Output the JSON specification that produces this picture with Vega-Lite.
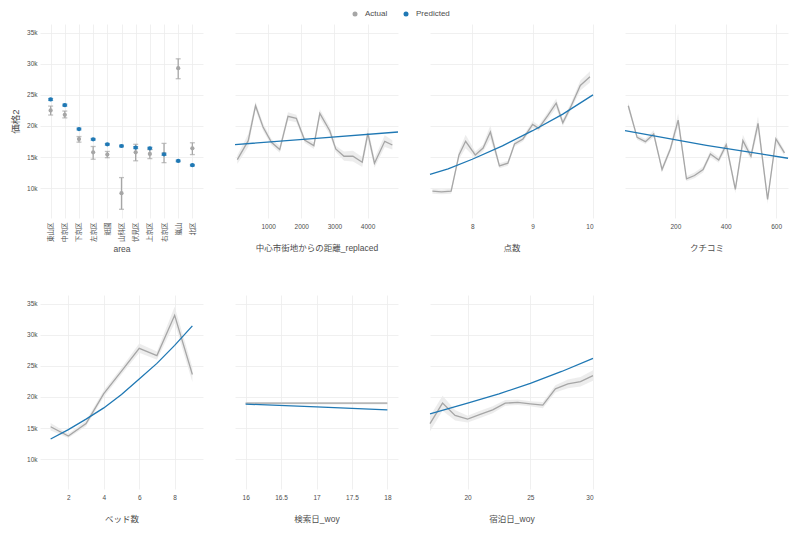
{
  "$schema": "https://vega.github.io/schema/vega-lite/v6.json",
  "background": "white",
  "padding": {"left": 10, "top": 10, "right": 5, "bottom": 5},
  "config": {
    "font": "Liberation Sans, Noto Sans CJK JP, sans-serif",
    "view": {"stroke": null},
    "axis": {"domain": false, "ticks": false, "gridColor": "#ececec", "gridWidth": 0.8, "labelColor": "#4d4d4d", "labelFontSize": 6.5, "titleFontSize": 8.5, "titleFontWeight": "normal", "titleColor": "#4d4d4d", "labelPadding": 3},
    "legend": {"layout": {"top": {"anchor": "middle"}}}
  },
  "bounds": "flush",
  "columns": 4,
  "spacing": {"row": 77, "column": 32},
  "data": {"values": [
    {"p":"area","c":"東山区","s":"Actual","y":22500,"lo":21760,"hi":23200},
    {"p":"area","c":"中京区","s":"Actual","y":21800,"lo":21300,"hi":22400},
    {"p":"area","c":"下京区","s":"Actual","y":17900,"lo":17400,"hi":18300},
    {"p":"area","c":"左京区","s":"Actual","y":15770,"lo":14650,"hi":16700},
    {"p":"area","c":"祇園","s":"Actual","y":15400,"lo":14900,"hi":15900},
    {"p":"area","c":"山科区","s":"Actual","y":9200,"lo":6600,"hi":11700},
    {"p":"area","c":"伏見区","s":"Actual","y":15770,"lo":14400,"hi":17050},
    {"p":"area","c":"上京区","s":"Actual","y":15500,"lo":14750,"hi":16200},
    {"p":"area","c":"右京区","s":"Actual","y":15500,"lo":14100,"hi":17200},
    {"p":"area","c":"嵐山","s":"Actual","y":29300,"lo":27600,"hi":30800},
    {"p":"area","c":"北区","s":"Actual","y":16400,"lo":15400,"hi":17300},
    {"p":"area","c":"東山区","s":"Predicted","y":24260,"lo":24110,"hi":24410},
    {"p":"area","c":"中京区","s":"Predicted","y":23350,"lo":23200,"hi":23500},
    {"p":"area","c":"下京区","s":"Predicted","y":19510,"lo":19380,"hi":19640},
    {"p":"area","c":"左京区","s":"Predicted","y":17850,"lo":17720,"hi":17980},
    {"p":"area","c":"祇園","s":"Predicted","y":17050,"lo":16920,"hi":17180},
    {"p":"area","c":"山科区","s":"Predicted","y":16780,"lo":16650,"hi":16910},
    {"p":"area","c":"伏見区","s":"Predicted","y":16520,"lo":16370,"hi":16670},
    {"p":"area","c":"上京区","s":"Predicted","y":16410,"lo":16260,"hi":16560},
    {"p":"area","c":"右京区","s":"Predicted","y":15450,"lo":15280,"hi":15620},
    {"p":"area","c":"嵐山","s":"Predicted","y":14380,"lo":14260,"hi":14500},
    {"p":"area","c":"北区","s":"Predicted","y":13690,"lo":13570,"hi":13810},

    {"p":"dist","x":70,"s":"Actual","y":14590,"lo":13900,"hi":15300},
    {"p":"dist","x":400,"s":"Actual","y":17640,"lo":16600,"hi":18700},
    {"p":"dist","x":620,"s":"Actual","y":23250,"lo":22600,"hi":23900},
    {"p":"dist","x":850,"s":"Actual","y":19780,"lo":19200,"hi":20400},
    {"p":"dist","x":1100,"s":"Actual","y":17370,"lo":16900,"hi":17900},
    {"p":"dist","x":1350,"s":"Actual","y":16200,"lo":15700,"hi":16800},
    {"p":"dist","x":1600,"s":"Actual","y":21540,"lo":20900,"hi":22200},
    {"p":"dist","x":1850,"s":"Actual","y":21220,"lo":20600,"hi":21800},
    {"p":"dist","x":2100,"s":"Actual","y":17750,"lo":17300,"hi":18200},
    {"p":"dist","x":2380,"s":"Actual","y":16840,"lo":16300,"hi":17400},
    {"p":"dist","x":2560,"s":"Actual","y":22020,"lo":21300,"hi":22700},
    {"p":"dist","x":2860,"s":"Actual","y":19240,"lo":18600,"hi":19900},
    {"p":"dist","x":3040,"s":"Actual","y":16300,"lo":15800,"hi":16800},
    {"p":"dist","x":3290,"s":"Actual","y":15130,"lo":14400,"hi":15900},
    {"p":"dist","x":3560,"s":"Actual","y":15130,"lo":14300,"hi":16000},
    {"p":"dist","x":3840,"s":"Actual","y":14170,"lo":13400,"hi":15000},
    {"p":"dist","x":4010,"s":"Actual","y":18810,"lo":17800,"hi":19800},
    {"p":"dist","x":4210,"s":"Actual","y":14010,"lo":13300,"hi":14800},
    {"p":"dist","x":4520,"s":"Actual","y":17530,"lo":16600,"hi":18500},
    {"p":"dist","x":4750,"s":"Actual","y":16940,"lo":16200,"hi":17700},
    {"p":"dist","x":0,"s":"Predicted","y":17000},
    {"p":"dist","x":2450,"s":"Predicted","y":18000},
    {"p":"dist","x":4920,"s":"Predicted","y":19030},

    {"p":"score","x":7.34,"s":"Actual","y":9520,"lo":9100,"hi":9900},
    {"p":"score","x":7.49,"s":"Actual","y":9410,"lo":9000,"hi":9800},
    {"p":"score","x":7.65,"s":"Actual","y":9520,"lo":9100,"hi":9900},
    {"p":"score","x":7.78,"s":"Actual","y":15340,"lo":14700,"hi":16000},
    {"p":"score","x":7.89,"s":"Actual","y":17530,"lo":16400,"hi":18600},
    {"p":"score","x":8.05,"s":"Actual","y":15340,"lo":14800,"hi":15900},
    {"p":"score","x":8.18,"s":"Actual","y":16460,"lo":15900,"hi":17000},
    {"p":"score","x":8.3,"s":"Actual","y":19030,"lo":17900,"hi":20100},
    {"p":"score","x":8.45,"s":"Actual","y":13580,"lo":13200,"hi":14000},
    {"p":"score","x":8.59,"s":"Actual","y":14010,"lo":13600,"hi":14400},
    {"p":"score","x":8.7,"s":"Actual","y":17100,"lo":16700,"hi":17500},
    {"p":"score","x":8.84,"s":"Actual","y":17910,"lo":17500,"hi":18300},
    {"p":"score","x":9.0,"s":"Actual","y":20260,"lo":19700,"hi":20800},
    {"p":"score","x":9.1,"s":"Actual","y":19620,"lo":19200,"hi":20100},
    {"p":"score","x":9.25,"s":"Actual","y":21650,"lo":21100,"hi":22200},
    {"p":"score","x":9.39,"s":"Actual","y":23680,"lo":22900,"hi":24400},
    {"p":"score","x":9.5,"s":"Actual","y":20520,"lo":20000,"hi":21100},
    {"p":"score","x":9.64,"s":"Actual","y":23250,"lo":22700,"hi":23800},
    {"p":"score","x":9.79,"s":"Actual","y":26510,"lo":25700,"hi":27300},
    {"p":"score","x":9.95,"s":"Actual","y":27900,"lo":27000,"hi":28800},
    {"p":"score","x":7.3,"s":"Predicted","y":12200},
    {"p":"score","x":7.6,"s":"Predicted","y":13100},
    {"p":"score","x":8.0,"s":"Predicted","y":14650},
    {"p":"score","x":8.5,"s":"Predicted","y":16800},
    {"p":"score","x":9.0,"s":"Predicted","y":19240},
    {"p":"score","x":9.5,"s":"Predicted","y":21900},
    {"p":"score","x":10.0,"s":"Predicted","y":25000},

    {"p":"review","x":13,"s":"Actual","y":23250,"lo":22700,"hi":23800},
    {"p":"review","x":48,"s":"Actual","y":18170,"lo":17800,"hi":18600},
    {"p":"review","x":81,"s":"Actual","y":17480,"lo":17100,"hi":17900},
    {"p":"review","x":114,"s":"Actual","y":18710,"lo":18200,"hi":19300},
    {"p":"review","x":147,"s":"Actual","y":12990,"lo":12500,"hi":13500},
    {"p":"review","x":180,"s":"Actual","y":16300,"lo":15800,"hi":16800},
    {"p":"review","x":211,"s":"Actual","y":20950,"lo":19900,"hi":22000},
    {"p":"review","x":244,"s":"Actual","y":11500,"lo":11100,"hi":11900},
    {"p":"review","x":276,"s":"Actual","y":12030,"lo":11600,"hi":12500},
    {"p":"review","x":310,"s":"Actual","y":12990,"lo":12500,"hi":13500},
    {"p":"review","x":339,"s":"Actual","y":15500,"lo":15000,"hi":16000},
    {"p":"review","x":372,"s":"Actual","y":14540,"lo":14100,"hi":15000},
    {"p":"review","x":402,"s":"Actual","y":17000,"lo":16300,"hi":17700},
    {"p":"review","x":438,"s":"Actual","y":9790,"lo":9200,"hi":10400},
    {"p":"review","x":468,"s":"Actual","y":17640,"lo":16700,"hi":18600},
    {"p":"review","x":500,"s":"Actual","y":15130,"lo":14600,"hi":15700},
    {"p":"review","x":528,"s":"Actual","y":20420,"lo":19200,"hi":21600},
    {"p":"review","x":566,"s":"Actual","y":8180,"lo":7500,"hi":8900},
    {"p":"review","x":599,"s":"Actual","y":17910,"lo":17300,"hi":18500},
    {"p":"review","x":633,"s":"Actual","y":15660,"lo":15200,"hi":16100},
    {"p":"review","x":0,"s":"Predicted","y":19240},
    {"p":"review","x":323,"s":"Predicted","y":16880},
    {"p":"review","x":647,"s":"Predicted","y":14810},

    {"p":"beds","x":1,"s":"Actual","y":15210,"lo":14600,"hi":15800},
    {"p":"beds","x":2,"s":"Actual","y":13720,"lo":13400,"hi":14100},
    {"p":"beds","x":3,"s":"Actual","y":15740,"lo":15300,"hi":16200},
    {"p":"beds","x":4,"s":"Actual","y":20530,"lo":20000,"hi":21100},
    {"p":"beds","x":5,"s":"Actual","y":24150,"lo":23600,"hi":24700},
    {"p":"beds","x":6,"s":"Actual","y":27820,"lo":27100,"hi":28600},
    {"p":"beds","x":7,"s":"Actual","y":26650,"lo":26000,"hi":27300},
    {"p":"beds","x":8,"s":"Actual","y":33140,"lo":31900,"hi":34500},
    {"p":"beds","x":9,"s":"Actual","y":23620,"lo":22400,"hi":24800},
    {"p":"beds","x":1,"s":"Predicted","y":13240},
    {"p":"beds","x":2,"s":"Predicted","y":14750},
    {"p":"beds","x":3,"s":"Predicted","y":16430},
    {"p":"beds","x":4,"s":"Predicted","y":18240},
    {"p":"beds","x":5,"s":"Predicted","y":20400},
    {"p":"beds","x":6,"s":"Predicted","y":22900},
    {"p":"beds","x":7,"s":"Predicted","y":25400},
    {"p":"beds","x":8,"s":"Predicted","y":28300},
    {"p":"beds","x":9,"s":"Predicted","y":31440},

    {"p":"search","x":16,"s":"Actual","y":19000,"lo":18800,"hi":19200},
    {"p":"search","x":17,"s":"Actual","y":19000,"lo":18800,"hi":19200},
    {"p":"search","x":18,"s":"Actual","y":19000,"lo":18800,"hi":19200},
    {"p":"search","x":16,"s":"Predicted","y":18850},
    {"p":"search","x":17,"s":"Predicted","y":18400},
    {"p":"search","x":18,"s":"Predicted","y":17940},

    {"p":"stay","x":17,"s":"Actual","y":15700,"lo":14500,"hi":16900},
    {"p":"stay","x":18,"s":"Actual","y":19010,"lo":17800,"hi":20200},
    {"p":"stay","x":19,"s":"Actual","y":17040,"lo":16200,"hi":17900},
    {"p":"stay","x":20,"s":"Actual","y":16450,"lo":15900,"hi":17000},
    {"p":"stay","x":21,"s":"Actual","y":17200,"lo":16600,"hi":17800},
    {"p":"stay","x":22,"s":"Actual","y":17940,"lo":17400,"hi":18500},
    {"p":"stay","x":23,"s":"Actual","y":19010,"lo":18600,"hi":19500},
    {"p":"stay","x":24,"s":"Actual","y":19120,"lo":18700,"hi":19600},
    {"p":"stay","x":25,"s":"Actual","y":18900,"lo":18500,"hi":19300},
    {"p":"stay","x":26,"s":"Actual","y":18690,"lo":18200,"hi":19200},
    {"p":"stay","x":27,"s":"Actual","y":21300,"lo":20700,"hi":21900},
    {"p":"stay","x":28,"s":"Actual","y":22100,"lo":21400,"hi":22800},
    {"p":"stay","x":29,"s":"Actual","y":22470,"lo":21700,"hi":23200},
    {"p":"stay","x":30,"s":"Actual","y":23430,"lo":22600,"hi":24300},
    {"p":"stay","x":17,"s":"Predicted","y":17300},
    {"p":"stay","x":20,"s":"Predicted","y":19000},
    {"p":"stay","x":22.5,"s":"Predicted","y":20500},
    {"p":"stay","x":25,"s":"Predicted","y":22200},
    {"p":"stay","x":27.5,"s":"Predicted","y":24100},
    {"p":"stay","x":30,"s":"Predicted","y":26200}
  ]},
  "concat": [
    {
      "width": 163, "height": 194,
      "transform": [{"filter": "datum.p === 'area'"}],
      "encoding": {"x": {"field": "c", "type": "nominal", "sort": ["東山区","中京区","下京区","左京区","祇園","山科区","伏見区","上京区","右京区","嵐山","北区"], "scale": {"type": "point", "padding": 0.75}, "axis": {"labelAngle": -90, "title": "area", "titlePadding": 3, "grid": true, "labelPadding": 4}}},
      "layer": [
        {"mark": {"type": "errorbar", "ticks": {"size": 5}, "thickness": 1.3},
         "encoding": {
           "y": {"field": "lo", "type": "quantitative", "scale": {"domain": [5200, 36400], "nice": false, "zero": false}, "axis": {"values": [10000,15000,20000,25000,30000,35000], "format": "~s", "title": "価格2", "titleFontSize": 9.5, "titlePadding": 6}},
           "y2": {"field": "hi"},
           "color": {"field": "s", "type": "nominal", "scale": {"domain": ["Actual","Predicted"], "range": ["#a6a6a6","#1f78b4"]}, "legend": null}}},
        {"transform": [{"calculate": "datum.s", "as": "series"}],
         "mark": {"type": "point", "filled": true, "size": 18, "opacity": 1, "strokeWidth": 0},
         "encoding": {
           "y": {"field": "y", "type": "quantitative", "scale": {"domain": [5200, 36400], "nice": false, "zero": false}, "axis": {"values": [10000,15000,20000,25000,30000,35000], "format": "~s", "title": "価格2", "titleFontSize": 9.5, "titlePadding": 6}},
           "fill": {"field": "series", "type": "nominal", "scale": {"range": ["#a6a6a6","#1f78b4"]},
             "legend": {"orient": "top", "offset": 6, "direction": "horizontal", "title": null, "symbolType": "circle", "symbolSize": 25, "symbolStrokeWidth": 0, "labelFontSize": 8, "labelColor": "#4d4d4d", "columnPadding": 14, "labelOffset": 6, "padding": 0}}}}
      ]
    },
    {
      "width": 163, "height": 194,
      "transform": [{"filter": "datum.p === 'dist'"}],
      "encoding": {"x": {"field": "x", "type": "quantitative", "scale": {"domain": [0, 4920], "nice": false, "zero": false}, "axis": {"values": [1000,2000,3000,4000], "format": "d", "title": "中心市街地からの距離_replaced", "labelPadding": 5, "titlePadding": 14}}},
      "layer": [
        {"transform": [{"filter": "datum.s === 'Actual'"}], "mark": {"type": "area", "color": "#ebebeb", "opacity": 0.9},
         "encoding": {"y": {"field": "lo", "type": "quantitative", "scale": {"domain": [5200, 36400], "nice": false, "zero": false}, "axis": {"values": [10000,15000,20000,25000,30000,35000], "labels": false, "title": null}}, "y2": {"field": "hi"}}},
        {"mark": {"type": "line", "strokeWidth": 1.3},
         "encoding": {"y": {"field": "y", "type": "quantitative", "scale": {"domain": [5200, 36400], "nice": false, "zero": false}, "axis": {"values": [10000,15000,20000,25000,30000,35000], "labels": false, "title": null}},
           "color": {"field": "s", "type": "nominal", "scale": {"domain": ["Actual","Predicted"], "range": ["#a6a6a6","#1f78b4"]}, "legend": null}}}
      ]
    },
    {
      "width": 163, "height": 194,
      "transform": [{"filter": "datum.p === 'score'"}],
      "encoding": {"x": {"field": "x", "type": "quantitative", "scale": {"domain": [7.3, 10], "nice": false, "zero": false}, "axis": {"values": [8,9,10], "format": "d", "title": "点数", "labelPadding": 5, "titlePadding": 14}}},
      "layer": [
        {"transform": [{"filter": "datum.s === 'Actual'"}], "mark": {"type": "area", "color": "#ebebeb", "opacity": 0.9},
         "encoding": {"y": {"field": "lo", "type": "quantitative", "scale": {"domain": [5200, 36400], "nice": false, "zero": false}, "axis": {"values": [10000,15000,20000,25000,30000,35000], "labels": false, "title": null}}, "y2": {"field": "hi"}}},
        {"mark": {"type": "line", "strokeWidth": 1.3},
         "encoding": {"y": {"field": "y", "type": "quantitative", "scale": {"domain": [5200, 36400], "nice": false, "zero": false}, "axis": {"values": [10000,15000,20000,25000,30000,35000], "labels": false, "title": null}},
           "color": {"field": "s", "type": "nominal", "scale": {"domain": ["Actual","Predicted"], "range": ["#a6a6a6","#1f78b4"]}, "legend": null}}}
      ]
    },
    {
      "width": 163, "height": 194,
      "transform": [{"filter": "datum.p === 'review'"}],
      "encoding": {"x": {"field": "x", "type": "quantitative", "scale": {"domain": [0, 647], "nice": false, "zero": false}, "axis": {"values": [200,400,600], "format": "d", "title": "クチコミ", "labelPadding": 5, "titlePadding": 14}}},
      "layer": [
        {"transform": [{"filter": "datum.s === 'Actual'"}], "mark": {"type": "area", "color": "#ebebeb", "opacity": 0.9},
         "encoding": {"y": {"field": "lo", "type": "quantitative", "scale": {"domain": [5200, 36400], "nice": false, "zero": false}, "axis": {"values": [10000,15000,20000,25000,30000,35000], "labels": false, "title": null}}, "y2": {"field": "hi"}}},
        {"mark": {"type": "line", "strokeWidth": 1.3},
         "encoding": {"y": {"field": "y", "type": "quantitative", "scale": {"domain": [5200, 36400], "nice": false, "zero": false}, "axis": {"values": [10000,15000,20000,25000,30000,35000], "labels": false, "title": null}},
           "color": {"field": "s", "type": "nominal", "scale": {"domain": ["Actual","Predicted"], "range": ["#a6a6a6","#1f78b4"]}, "legend": null}}}
      ]
    },
    {
      "width": 163, "height": 194,
      "transform": [{"filter": "datum.p === 'beds'"}],
      "encoding": {"x": {"field": "x", "type": "quantitative", "scale": {"domain": [0.4, 9.6], "nice": false, "zero": false}, "axis": {"values": [2,4,6,8], "format": "d", "title": "ベッド数", "labelPadding": 5, "titlePadding": 14}}},
      "layer": [
        {"transform": [{"filter": "datum.s === 'Actual'"}], "mark": {"type": "area", "color": "#ebebeb", "opacity": 0.9},
         "encoding": {"y": {"field": "lo", "type": "quantitative", "scale": {"domain": [5200, 36400], "nice": false, "zero": false}, "axis": {"values": [10000,15000,20000,25000,30000,35000], "format": "~s", "title": null}}, "y2": {"field": "hi"}}},
        {"mark": {"type": "line", "strokeWidth": 1.3},
         "encoding": {"y": {"field": "y", "type": "quantitative", "scale": {"domain": [5200, 36400], "nice": false, "zero": false}, "axis": {"values": [10000,15000,20000,25000,30000,35000], "format": "~s", "title": null}},
           "color": {"field": "s", "type": "nominal", "scale": {"domain": ["Actual","Predicted"], "range": ["#a6a6a6","#1f78b4"]}, "legend": null}}}
      ]
    },
    {
      "width": 163, "height": 194,
      "transform": [{"filter": "datum.p === 'search'"}],
      "encoding": {"x": {"field": "x", "type": "quantitative", "scale": {"domain": [15.85, 18.15], "nice": false, "zero": false}, "axis": {"values": [16,16.5,17,17.5,18], "format": "~g", "title": "検索日_woy", "labelPadding": 5, "titlePadding": 14}}},
      "layer": [
        {"transform": [{"filter": "datum.s === 'Actual'"}], "mark": {"type": "area", "color": "#ebebeb", "opacity": 0.9},
         "encoding": {"y": {"field": "lo", "type": "quantitative", "scale": {"domain": [5200, 36400], "nice": false, "zero": false}, "axis": {"values": [10000,15000,20000,25000,30000,35000], "labels": false, "title": null}}, "y2": {"field": "hi"}}},
        {"mark": {"type": "line", "strokeWidth": 1.3},
         "encoding": {"y": {"field": "y", "type": "quantitative", "scale": {"domain": [5200, 36400], "nice": false, "zero": false}, "axis": {"values": [10000,15000,20000,25000,30000,35000], "labels": false, "title": null}},
           "color": {"field": "s", "type": "nominal", "scale": {"domain": ["Actual","Predicted"], "range": ["#a6a6a6","#1f78b4"]}, "legend": null}}}
      ]
    },
    {
      "width": 163, "height": 194,
      "transform": [{"filter": "datum.p === 'stay'"}],
      "encoding": {"x": {"field": "x", "type": "quantitative", "scale": {"domain": [17, 30], "nice": false, "zero": false}, "axis": {"values": [20,25,30], "format": "d", "title": "宿泊日_woy", "labelPadding": 5, "titlePadding": 14}}},
      "layer": [
        {"transform": [{"filter": "datum.s === 'Actual'"}], "mark": {"type": "area", "color": "#ebebeb", "opacity": 0.9},
         "encoding": {"y": {"field": "lo", "type": "quantitative", "scale": {"domain": [5200, 36400], "nice": false, "zero": false}, "axis": {"values": [10000,15000,20000,25000,30000,35000], "labels": false, "title": null}}, "y2": {"field": "hi"}}},
        {"mark": {"type": "line", "strokeWidth": 1.3},
         "encoding": {"y": {"field": "y", "type": "quantitative", "scale": {"domain": [5200, 36400], "nice": false, "zero": false}, "axis": {"values": [10000,15000,20000,25000,30000,35000], "labels": false, "title": null}},
           "color": {"field": "s", "type": "nominal", "scale": {"domain": ["Actual","Predicted"], "range": ["#a6a6a6","#1f78b4"]}, "legend": null}}}
      ]
    }
  ]
}
